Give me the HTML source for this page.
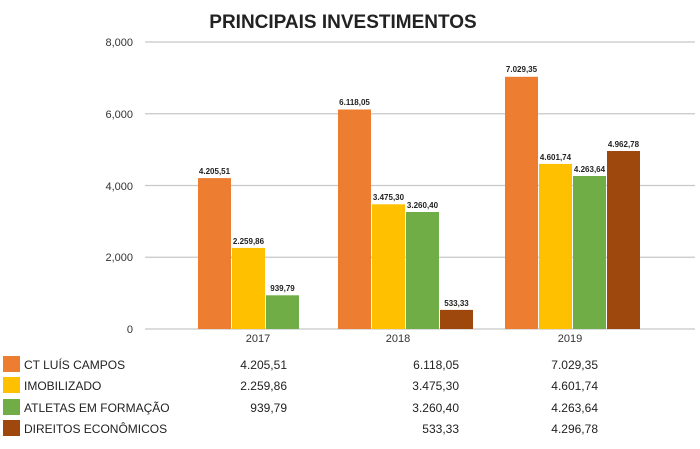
<!DOCTYPE html>
<html><head><meta charset="utf-8"><style>
body{margin:0;background:#fff;width:700px;height:449px;overflow:hidden}
svg{display:block;font-family:"Liberation Sans","DejaVu Sans",sans-serif}
</style></head><body>
<svg width="700" height="449" xmlns="http://www.w3.org/2000/svg">
<text x="343" y="28" text-anchor="middle" font-size="19" font-weight="bold" fill="#222">PRINCIPAIS INVESTIMENTOS</text>
<g stroke="#c8c8c8" stroke-width="1.2">
<line x1="145" x2="695" y1="42" y2="42"/><line x1="145" x2="695" y1="113.75" y2="113.75"/>
<line x1="145" x2="695" y1="185.5" y2="185.5"/><line x1="145" x2="695" y1="257.25" y2="257.25"/>
<line x1="145" x2="695" y1="329" y2="329"/>
</g>
<g font-size="11" fill="#333" text-anchor="end">
<text x="133" y="46">8,000</text><text x="133" y="118">6,000</text><text x="133" y="190">4,000</text><text x="133" y="261">2,000</text><text x="133" y="333">0</text>
</g>
<g>
<rect x="198" y="178.1" width="33" height="150.9" fill="#ED7D31"/>
<rect x="232" y="247.9" width="33" height="81.1" fill="#FFC000"/>
<rect x="266" y="295.3" width="33" height="33.7" fill="#70AD47"/>
<rect x="338" y="109.5" width="33" height="219.5" fill="#ED7D31"/>
<rect x="372" y="204.3" width="33" height="124.7" fill="#FFC000"/>
<rect x="406" y="212" width="33" height="117" fill="#70AD47"/>
<rect x="440" y="309.9" width="33" height="19.1" fill="#9E480E"/>
<rect x="505" y="76.8" width="33" height="252.2" fill="#ED7D31"/>
<rect x="539" y="163.9" width="33" height="165.1" fill="#FFC000"/>
<rect x="573" y="176" width="33" height="153" fill="#70AD47"/>
<rect x="607" y="151" width="33" height="178" fill="#9E480E"/>
</g>
<g font-size="8" font-weight="bold" fill="#222" text-anchor="middle">
<text x="214.5" y="174">4.205,51</text><text x="248.5" y="244">2.259,86</text><text x="282.5" y="291">939,79</text>
<text x="354.5" y="105">6.118,05</text><text x="388.5" y="200">3.475,30</text><text x="422.5" y="208">3.260,40</text><text x="456.5" y="306">533,33</text>
<text x="521.5" y="72">7.029,35</text><text x="555.5" y="160">4.601,74</text><text x="589.5" y="172">4.263,64</text><text x="623.5" y="147">4.962,78</text>
</g>
<g font-size="11" fill="#333" text-anchor="middle">
<text x="258" y="342">2017</text><text x="398" y="342">2018</text><text x="570" y="342">2019</text>
</g>
<rect x="3" y="356" width="17" height="16" fill="#ED7D31"/>
<rect x="3" y="377" width="17" height="16" fill="#FFC000"/>
<rect x="3" y="399" width="17" height="16" fill="#70AD47"/>
<rect x="3" y="420" width="17" height="16" fill="#9E480E"/>
<g font-size="12" fill="#222">
<text x="24" y="369">CT LUÍS CAMPOS</text><text x="24" y="390">IMOBILIZADO</text>
<text x="24" y="412">ATLETAS EM FORMAÇÃO</text><text x="24" y="433">DIREITOS ECONÔMICOS</text>
</g>
<g font-size="12" fill="#222" text-anchor="end">
<text x="287" y="369">4.205,51</text><text x="287" y="390">2.259,86</text><text x="287" y="412">939,79</text>
<text x="459" y="369">6.118,05</text><text x="459" y="390">3.475,30</text><text x="459" y="412">3.260,40</text><text x="459" y="433">533,33</text>
<text x="598" y="369">7.029,35</text><text x="598" y="390">4.601,74</text><text x="598" y="412">4.263,64</text><text x="598" y="433">4.296,78</text>
</g>
</svg>
</body></html>
